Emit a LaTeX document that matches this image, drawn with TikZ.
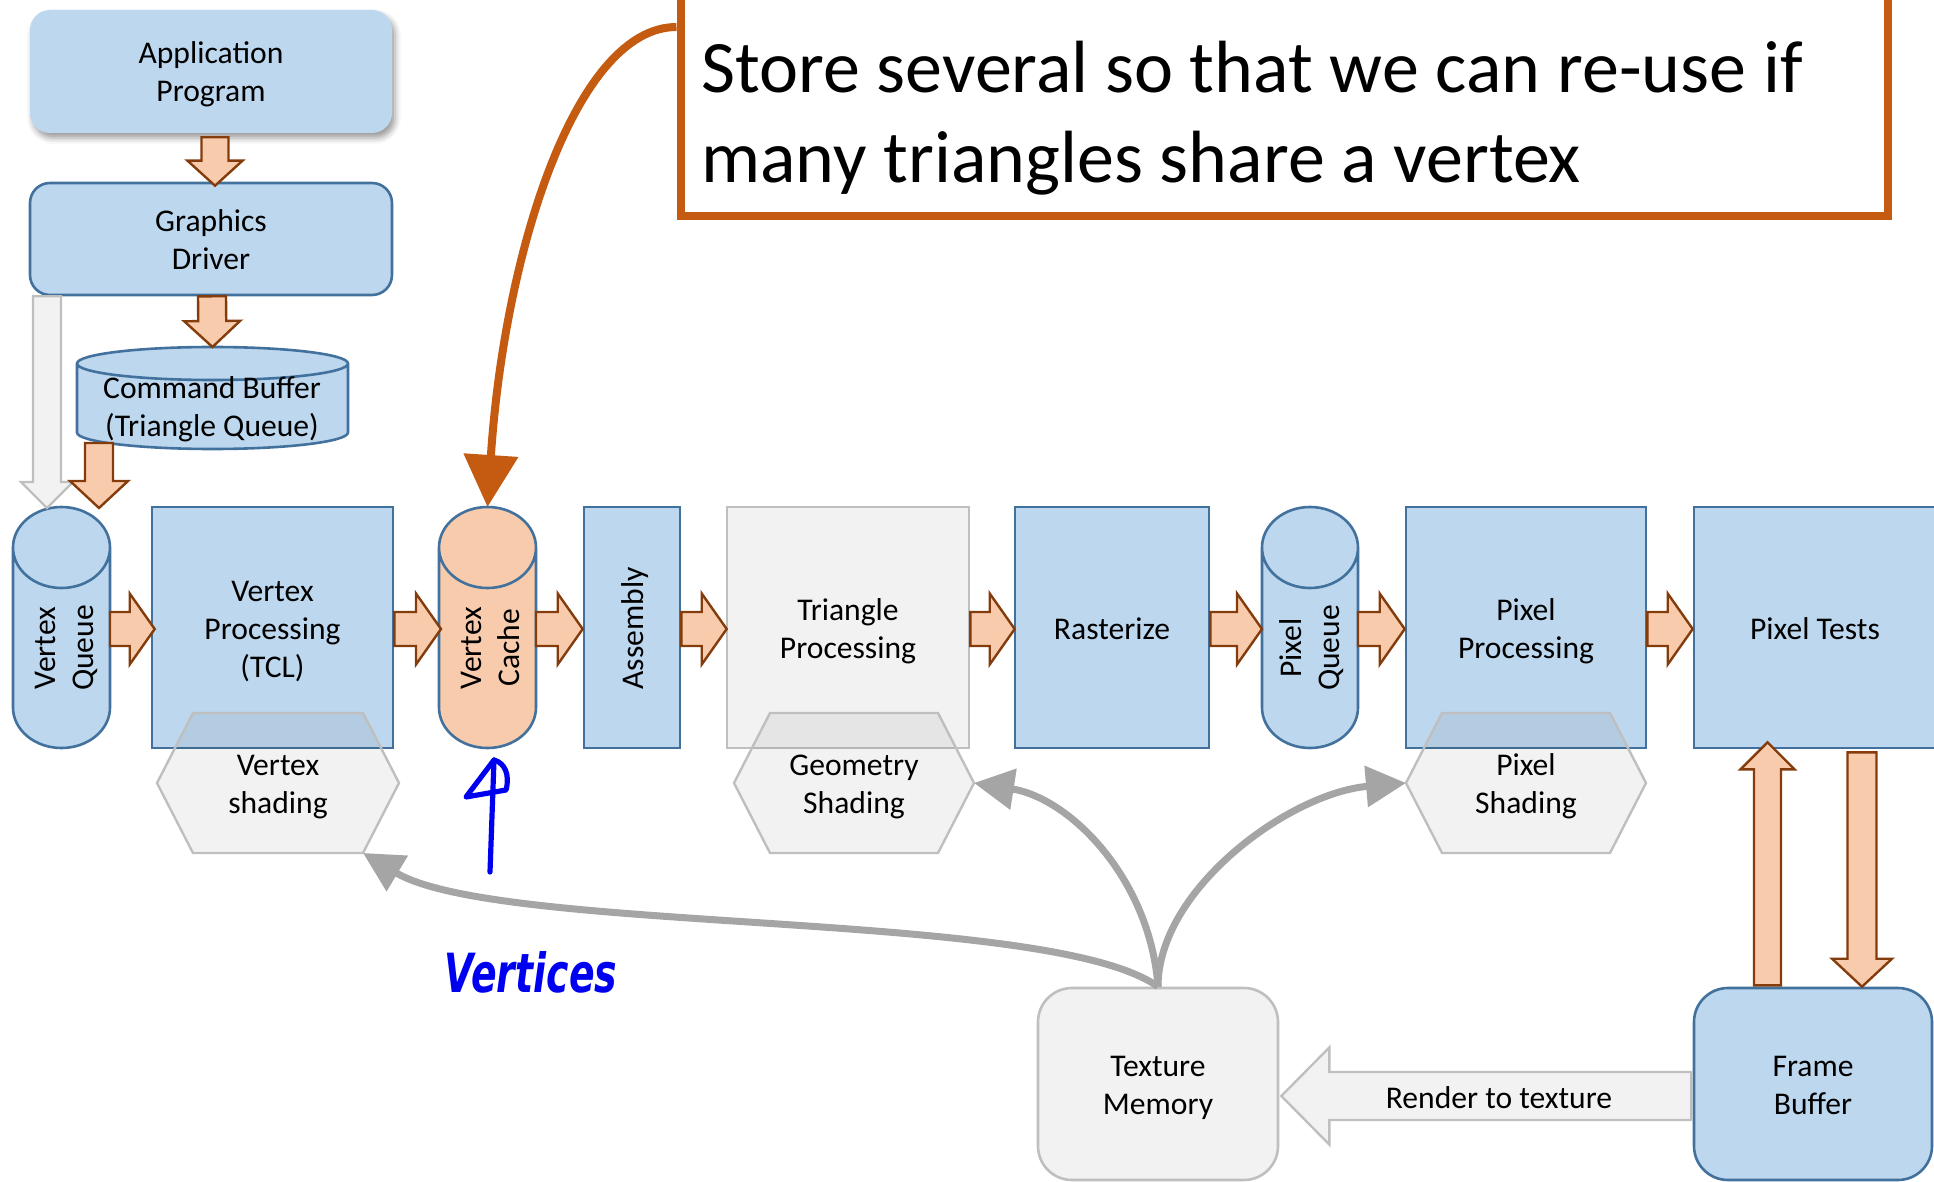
\documentclass[tikz,border=0pt]{standalone}
\usepackage{fontspec}
\setmainfont{Carlito}
\newfontfamily\inkfont{DejaVu Sans}
\usetikzlibrary{calc,arrows.meta,shadows.blur}

\definecolor{bfill}{HTML}{BDD7EE}
\definecolor{bborder}{HTML}{41719C}
\definecolor{ofill}{HTML}{F8CBAD}
\definecolor{oborder}{HTML}{843C0C}
\definecolor{gfill}{HTML}{F2F2F2}
\definecolor{gborder}{HTML}{BFBFBF}
\definecolor{curvec}{HTML}{A5A5A5}
\definecolor{calloutc}{HTML}{C55A11}
\definecolor{inkblue}{HTML}{0000F0}

\newcommand\lbl{\fontsize{15.8}{19}\selectfont}
\newcommand\bigtxt{\fontsize{37}{45}\selectfont}
% fixed struts on the first and last line so every label sits alike in its box
\newcommand\topstrut{\rule{0pt}{15.5pt}}
\newcommand\botstrut{\rule[-4pt]{0pt}{4pt}}
\newcommand\stext[1]{\topstrut#1\botstrut}

\tikzset{
  lbltext/.style={font=\lbl, align=center, inner sep=0pt},
  box/.style={rectangle, lbltext, line width=1.3pt},
  bluebox/.style={box, draw=bborder, fill=bfill},
  graybox/.style={box, draw=gborder, fill=gfill},
  shapeslot/.style={rectangle, inner sep=0pt, outer sep=0pt},
  vlabel/.style={lbltext, rotate=90},
  hexline/.style={draw=gborder, line width=1.2pt, fill=black, fill opacity=0.05},
  oarrow/.style={fill=ofill, draw=oborder, line width=1.2pt},
  garrow/.style={fill=gfill, draw=gborder, line width=1.2pt},
  feed/.style={draw=curvec, line width=3.5pt, -{Triangle[length=20pt,width=20pt]}},
  ink/.style={draw=inkblue, line width=2.6pt, line cap=round, line join=round},
}

% vertical drum drawn inside the bounds of a node: #1 node, #2 end radius, #3 fill
\newcommand\drawdrum[3]{%
  \path[fill=#3, draw=bborder, line width=1.3pt]
    let \p1=(#1.north west), \p2=(#1.south east) in
    (\x1,\y1-#2) -- (\x1,\y2+#2)
    arc[start angle=180, end angle=360, x radius={(\x2-\x1)/2}, y radius=#2]
    -- (\x2,\y1-#2)
    arc[start angle=0, end angle=180, x radius={(\x2-\x1)/2}, y radius=#2]
    -- cycle
    ({(\x1+\x2)/2},\y1-#2) ellipse[x radius={(\x2-\x1)/2}, y radius=#2];
}

% hexagon outline around a node
\newcommand\hexoutline[1]{%
  \path[hexline] ([xshift=18pt]#1.north west) -- ([xshift=-18pt]#1.north east) -- (#1.east)
    -- ([xshift=-18pt]#1.south east) -- ([xshift=18pt]#1.south west) -- (#1.west) -- cycle;
}

% block arrow: #1 style, #2 tail, #3 tip, #4 shaft half width, #5 head half width, #6 head length
\newcommand\blockarrow[6]{%
  \coordinate (ba-t) at #2;
  \coordinate (ba-p) at #3;
  \coordinate (ba-h) at ($(ba-p)!#6!(ba-t)$);
  \path[#1] ($(ba-t)!#4!90:(ba-p)$) -- ($(ba-h)!#4!90:(ba-p)$) -- ($(ba-h)!#5!90:(ba-p)$)
    -- (ba-p) -- ($(ba-h)!#5!-90:(ba-p)$) -- ($(ba-h)!#4!-90:(ba-p)$)
    -- ($(ba-t)!#4!-90:(ba-p)$) -- cycle;
}

\begin{document}
\begin{tikzpicture}[x=0.5pt,y=0.5pt]
\useasboundingbox (0,0) rectangle (1934,-1182);

% ---- front end ----
\node[box, fill=bfill, rounded corners=10pt, minimum width=181pt, minimum height=61.5pt,
      blur shadow={shadow xshift=1.5pt, shadow yshift=-2.5pt, shadow blur radius=3pt}]
      (app) at (211,-71.5) {\stext{Application\\Program}};
\node[bluebox, rounded corners=10pt, minimum width=181pt, minimum height=56pt]
      (drv) at (211,-239) {\stext{Graphics\\Driver}};

\node[shapeslot, minimum width=135.5pt, minimum height=51pt] (cmd) at (212.5,-398) {};
\drawdrum{cmd}{8.25pt}{bfill}
\node[lbltext] (cmdtext) at (212,-406.5) {\stext{Command Buffer\\(Triangle Queue)}};

% ---- pipeline ----
\node[shapeslot, minimum width=48.5pt, minimum height=120.5pt] (vq) at (61.5,-627.5) {};
\drawdrum{vq}{20.25pt}{bfill}
\node[vlabel] (vqtext) at (62.5,-648) {\stext{Vertex\\Queue}};

\node[bluebox, minimum width=120.5pt, minimum height=120.5pt] (vp) at (272.5,-627.5) {\stext{Vertex\\Processing\\(TCL)}};

\node[shapeslot, minimum width=48.5pt, minimum height=120.5pt] (vc) at (487.5,-627.5) {};
\drawdrum{vc}{20.25pt}{ofill}
\node[vlabel] (vctext) at (488.5,-648) {\stext{Vertex\\Cache}};

\node[bluebox, minimum width=48pt, minimum height=120.5pt] (asm) at (632,-627.5) {};
\node[vlabel] (asmtext) at (631.5,-628.5) {\stext{Assembly}};

\node[graybox, minimum width=121pt, minimum height=120.5pt] (tri) at (848,-627.5) {\stext{Triangle\\Processing}};
\node[bluebox, minimum width=97pt, minimum height=120.5pt] (ras) at (1112,-627.5) {\stext{Rasterize}};

\node[shapeslot, minimum width=48pt, minimum height=120.5pt] (pq) at (1310,-627.5) {};
\drawdrum{pq}{20.25pt}{bfill}
\node[vlabel] (pqtext) at (1309,-648) {\stext{Pixel\\Queue}};

\node[bluebox, minimum width=120pt, minimum height=120.5pt] (pp) at (1526,-627.5) {\stext{Pixel\\Processing}};
\node[bluebox, minimum width=121pt, minimum height=120.5pt] (ptests) at (1815,-627.5) {\stext{Pixel Tests}};

% ---- shading stages ----
\node[shapeslot, lbltext, minimum width=121pt, minimum height=70pt] (vs) at (278,-783) {\stext{Vertex\\shading}};
\hexoutline{vs}
\node[shapeslot, lbltext, minimum width=120pt, minimum height=70pt] (gs) at (854,-783) {\stext{Geometry\\Shading}};
\hexoutline{gs}
\node[shapeslot, lbltext, minimum width=120pt, minimum height=70pt] (ps) at (1526,-783) {\stext{Pixel\\Shading}};
\hexoutline{ps}

% ---- memories ----
\node[graybox, rounded corners=17pt, minimum width=120pt, minimum height=96pt] (tm) at (1158,-1084) {\stext{Texture\\Memory}};
\node[bluebox, rounded corners=17pt, minimum width=119pt, minimum height=96pt] (fb) at (1813,-1084) {\stext{Frame\\Buffer}};

% ---- block arrows ----
\blockarrow{garrow}{([xshift=-82pt]drv.south)}{([xshift=-7.25pt,yshift=-0.5pt]vq.north)}{7pt}{13pt}{13pt}
\blockarrow{oarrow}{([xshift=2pt,yshift=-1.5pt]app.south)}{([xshift=2pt,yshift=-2pt]drv.north)}{6.75pt}{13.75pt}{12.5pt}
\blockarrow{oarrow}{([xshift=0.5pt]drv.south)}{(cmd.north)}{7pt}{14pt}{13pt}
\blockarrow{oarrow}{([xshift=-56.75pt,yshift=3pt]cmd.south)}{([xshift=18.75pt,yshift=-0.5pt]vq.north)}{7pt}{14.5pt}{13.5pt}

\blockarrow{oarrow}{([yshift=-0.75pt]vq.east)}{([xshift=2pt,yshift=-0.75pt]vp.west)}{8.5pt}{17.75pt}{12.5pt}
\blockarrow{oarrow}{([yshift=-0.75pt]vp.east)}{([xshift=1pt,yshift=-0.75pt]vc.west)}{8.5pt}{17.75pt}{12.5pt}
\blockarrow{oarrow}{([yshift=-0.75pt]vc.east)}{([yshift=-0.75pt]asm.west)}{8.5pt}{17.75pt}{12.5pt}
\blockarrow{oarrow}{([yshift=-0.75pt]asm.east)}{([xshift=0.5pt,yshift=-0.75pt]tri.west)}{8.5pt}{17.75pt}{12.5pt}
\blockarrow{oarrow}{([yshift=-0.75pt]tri.east)}{([xshift=0.5pt,yshift=-0.75pt]ras.west)}{8.5pt}{17.75pt}{12.5pt}
\blockarrow{oarrow}{([yshift=-0.75pt]ras.east)}{([yshift=-0.75pt]pq.west)}{8.5pt}{17.75pt}{12.5pt}
\blockarrow{oarrow}{([yshift=-0.75pt]pq.east)}{([yshift=-0.75pt]pp.west)}{8.5pt}{17.75pt}{12.5pt}
\blockarrow{oarrow}{([yshift=-0.75pt]pp.east)}{([yshift=-0.75pt]ptests.west)}{8.5pt}{17.75pt}{12.5pt}

\blockarrow{oarrow}{([xshift=-22.75pt,yshift=0.7pt]fb.north)}{([xshift=-23.75pt,yshift=3.5pt]ptests.south)}{6.75pt}{13.5pt}{13.5pt}
\blockarrow{oarrow}{([xshift=23.5pt,yshift=-1.5pt]ptests.south)}{([xshift=24.5pt]fb.north)}{7.25pt}{15pt}{14pt}

\blockarrow{garrow}{([xshift=-0.7pt,yshift=-6pt]fb.west)}{([xshift=1pt,yshift=-6pt]tm.east)}{12pt}{24.25pt}{24pt}
\node[lbltext] (rtt) at (1499,-1096.5) {\stext{Render to texture}};

% ---- texture fetches ----
\draw[feed] (tm.north) .. controls +(-108,78) and +(137,-82) .. ([xshift=-18pt]vs.south east);
\draw[feed] (tm.north) .. controls +(-8,108) and +(96,-15) .. (gs.east);
\draw[feed] (tm.north) .. controls +(0,98) and +(-116,-10) .. (ps.west);

% ---- callout ----
\node[draw=calloutc, line width=4pt, minimum width=603.75pt, minimum height=118pt, inner sep=0pt]
      (callout) at (1284.25,-98) {};
\node[font=\bigtxt, anchor=base west, inner sep=0pt] (note1) at (701,-93) {Store several so that we can re-use if};
\node[font=\bigtxt, anchor=base west, inner sep=0pt] (note2) at (701,-183) {many triangles share a vertex};
\draw[draw=calloutc, line width=4pt, -{Triangle[length=26pt,width=26.5pt]}]
      ([yshift=35.5pt]callout.west) .. controls +(-100,0) and +(17,257) .. (vc.north);

% ---- ink annotation ----
\draw[ink] (490,-872) -- (494,-760);
\draw[ink] (494,-760) -- (466,-797) -- (506,-790) .. controls (510,-775) and (505,-763) .. (494,-760);
\node[text=inkblue, inner sep=0pt] (inknote) at (531,-972)
      {\scalebox{0.7}[1]{\inkfont\bfseries\itshape\fontsize{27}{30}\selectfont Vertices}};
\end{tikzpicture}
\end{document}
